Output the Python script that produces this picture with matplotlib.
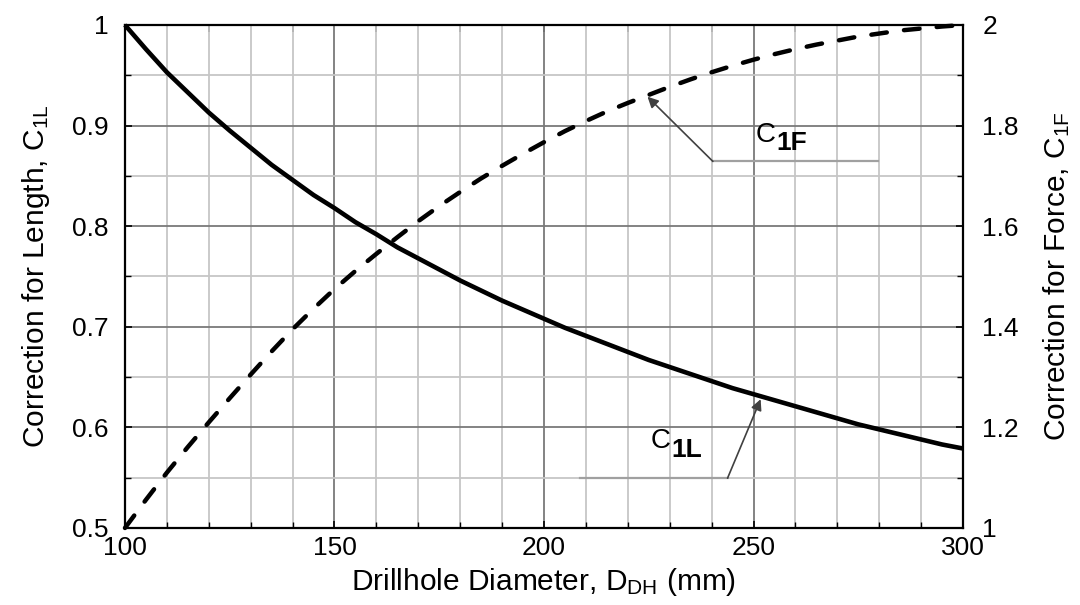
import matplotlib
matplotlib.use("Agg")
import matplotlib.pyplot as plt
from matplotlib.ticker import MultipleLocator

plt.rcParams['font.family'] = ['Liberation Sans', 'DejaVu Sans']
plt.rcParams['mathtext.fontset'] = 'custom'
plt.rcParams['mathtext.rm'] = 'Liberation Sans'
plt.rcParams['mathtext.it'] = 'Liberation Sans'
plt.rcParams['mathtext.bf'] = 'Liberation Sans:bold'

# ---- data ----
diameter = [100, 105, 110, 115, 120, 125, 130, 135, 140, 145, 150,
            155, 160, 165, 170, 175, 180, 185, 190, 195, 200,
            205, 210, 215, 220, 225, 230, 235, 240, 245, 250,
            255, 260, 265, 270, 275, 280, 285, 290, 295, 300]
c1l = [1.000, 0.976, 0.953, 0.933, 0.913, 0.895, 0.878, 0.861, 0.846, 0.831, 0.818,
       0.804, 0.792, 0.779, 0.768, 0.757, 0.746, 0.736, 0.726, 0.717, 0.708,
       0.699, 0.691, 0.683, 0.675, 0.667, 0.660, 0.653, 0.646, 0.639, 0.633,
       0.627, 0.621, 0.615, 0.609, 0.603, 0.598, 0.593, 0.588, 0.583, 0.579]
c1f = [1.000, 1.056, 1.110, 1.161, 1.210, 1.258, 1.305, 1.351, 1.395, 1.436, 1.475,
       1.511, 1.545, 1.578, 1.610, 1.640, 1.668, 1.695, 1.720, 1.744, 1.767,
       1.789, 1.809, 1.828, 1.845, 1.861, 1.877, 1.892, 1.906, 1.919, 1.931,
       1.942, 1.952, 1.961, 1.969, 1.977, 1.983, 1.989, 1.993, 1.997, 2.000]

x_ticks = [100, 150, 200, 250, 300]
left_ticks = [0.5, 0.6, 0.7, 0.8, 0.9, 1.0]
left_labels = ['0.5', '0.6', '0.7', '0.8', '0.9', '1']
right_ticks = [1.0, 1.2, 1.4, 1.6, 1.8, 2.0]
right_labels = ['1', '1.2', '1.4', '1.6', '1.8', '2']

FS = 19
LFS = 21.5

fig = plt.figure(figsize=(10.8, 6.05), dpi=100)
ax = fig.add_axes([0.1157, 0.1273, 0.7760, 0.8314])
ax.set_xlim(100, 300)
ax.set_ylim(0.5, 1.0)

# grid
for xv in range(110, 300, 10):
    dark = xv % 50 == 0
    ax.axvline(xv, color='#7a7a7a' if dark else '#c6c6c6', lw=1.3, zorder=0.5)
for yv in [0.55, 0.6, 0.65, 0.7, 0.75, 0.8, 0.85, 0.9, 0.95]:
    dark = abs(round(yv * 10) - yv * 10) < 1e-6
    ax.axhline(yv, color='#7a7a7a' if dark else '#c6c6c6', lw=1.3, zorder=0.5)

ax.plot(diameter, c1l, color='black', lw=3.3, solid_capstyle='butt',
        solid_joinstyle='round', zorder=3, clip_on=False)

ax.set_xticks(x_ticks)
ax.set_xticklabels([str(v) for v in x_ticks], fontsize=FS)
ax.xaxis.set_minor_locator(MultipleLocator(10))
ax.set_yticks(left_ticks)
ax.set_yticklabels(left_labels, fontsize=FS)
ax.yaxis.set_minor_locator(MultipleLocator(0.05))
ax.tick_params(axis='both', which='major', direction='in', length=5, width=1.2)
ax.tick_params(axis='both', which='minor', direction='in', length=4, width=1.0)
ax.tick_params(axis='x', which='major', pad=6)
ax.tick_params(axis='y', which='major', pad=12)
ax.set_xlabel(r'Drillhole Diameter, D$_{\mathregular{DH}}$ (mm)', fontsize=LFS, labelpad=4)
ax.set_ylabel(r'Correction for Length, C$_{\mathregular{1L}}$', fontsize=LFS, labelpad=14)

for s in ax.spines.values():
    s.set_linewidth(1.6)
    s.set_color('black')

# top ticks every 20
sec = ax.secondary_xaxis('top')
sec.set_xticks(list(range(120, 300, 20)))
sec.tick_params(direction='in', length=5, width=1.2, labeltop=False)
sec.spines['top'].set_visible(False)

# right axis
ax2 = ax.twinx()
ax2.set_ylim(1.0, 2.0)
ax2.plot(diameter, c1f, color='black', lw=3.2, dashes=(3.5, 3.9),
         dash_capstyle='round', zorder=3, clip_on=False)
ax2.set_yticks(right_ticks)
ax2.set_yticklabels(right_labels, fontsize=FS)
ax2.yaxis.set_minor_locator(MultipleLocator(0.1))
ax2.tick_params(axis='y', which='major', direction='in', length=5, width=1.2, pad=14)
ax2.tick_params(axis='y', which='minor', direction='in', length=4, width=1.0)
ax2.set_ylabel(r'Correction for Force, C$_{\mathregular{1F}}$', fontsize=LFS, labelpad=16)
for s in ax2.spines.values():
    s.set_visible(False)

# annotations: C1F
ax.plot([240.3, 279.7], [0.8644, 0.8644], color='#a0a0a0', lw=1.6, zorder=2)
ax.annotate('', xy=(224.7, 0.9287), xytext=(240.3, 0.8644),
            arrowprops=dict(arrowstyle='-|>', color='#404040', lw=1.2,
                            mutation_scale=16, shrinkA=0, shrinkB=0), zorder=4)
ax.text(255.3, 0.891, 'C', fontsize=20, ha='right', va='center', zorder=4)
ax.text(255.5, 0.883, '1F', fontsize=19, fontweight='bold', ha='left', va='center', zorder=4)

# annotations: C1L
ax.plot([208.7, 243.8], [0.5495, 0.5495], color='#a0a0a0', lw=1.6, zorder=2)
ax.annotate('', xy=(251.7, 0.628), xytext=(243.8, 0.5495),
            arrowprops=dict(arrowstyle='-|>', color='#404040', lw=1.2,
                            mutation_scale=16, shrinkA=0, shrinkB=0), zorder=4)
ax.text(230.2, 0.586, 'C', fontsize=20, ha='right', va='center', zorder=4)
ax.text(230.4, 0.578, '1L', fontsize=19, fontweight='bold', ha='left', va='center', zorder=4)

fig.savefig('out.png', dpi=100)
